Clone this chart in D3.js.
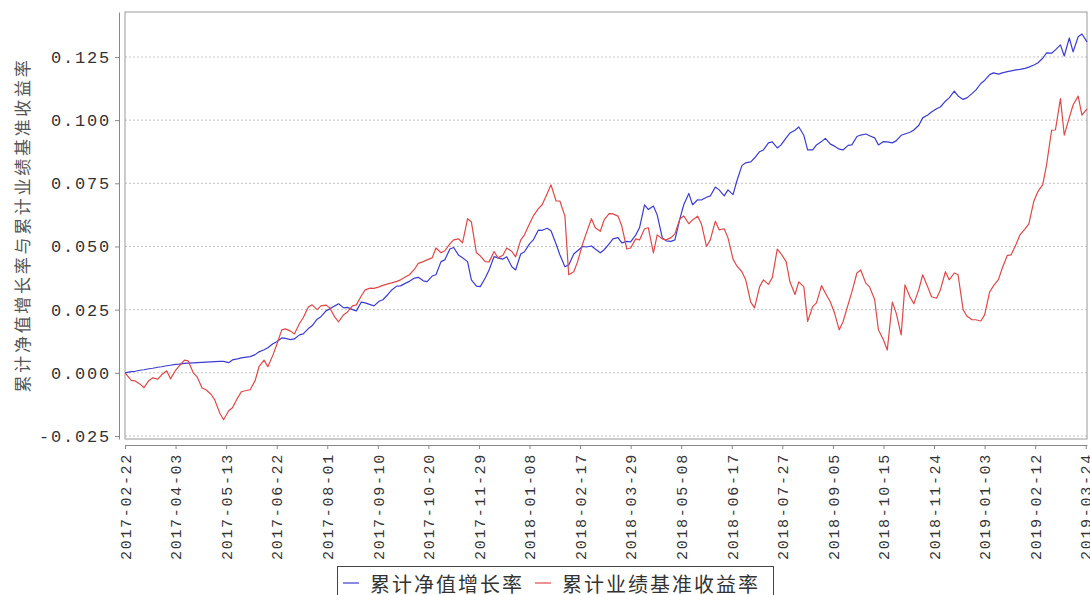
<!DOCTYPE html>
<html>
<head>
<meta charset="utf-8">
<script src="https://cdn.jsdelivr.net/npm/d3@7"></script>
<style>
body { margin: 0; background: #fff; }
</style>
</head>
<body>
<script>
const dates = [
"2017-02-22",
"2017-02-27","2017-03-02","2017-03-06","2017-03-09","2017-03-13","2017-03-16","2017-03-20","2017-03-23","2017-03-27","2017-03-30",
"2017-04-03","2017-04-06","2017-04-10","2017-04-13","2017-04-17","2017-04-20","2017-04-24","2017-04-27","2017-05-01","2017-05-04",
"2017-05-08","2017-05-11","2017-05-15","2017-05-18","2017-05-22","2017-05-25","2017-05-29","2017-06-01","2017-06-05","2017-06-08",
"2017-06-12","2017-06-15","2017-06-19","2017-06-22","2017-06-26","2017-06-29","2017-07-03","2017-07-06","2017-07-10","2017-07-13",
"2017-07-17","2017-07-20","2017-07-24","2017-07-27","2017-07-31","2017-08-03","2017-08-07","2017-08-10","2017-08-14","2017-08-17",
"2017-08-21","2017-08-24","2017-08-28","2017-08-31","2017-09-04","2017-09-07","2017-09-11","2017-09-14","2017-09-18","2017-09-21",
"2017-09-25","2017-09-28","2017-10-02","2017-10-05","2017-10-09","2017-10-12","2017-10-16","2017-10-19","2017-10-23","2017-10-26",
"2017-10-30","2017-11-02","2017-11-06","2017-11-09","2017-11-13","2017-11-16","2017-11-20","2017-11-23","2017-11-27","2017-11-30",
"2017-12-04","2017-12-07","2017-12-11","2017-12-14","2017-12-18","2017-12-21","2017-12-25","2017-12-28","2018-01-01","2018-01-04",
"2018-01-08","2018-01-11","2018-01-15","2018-01-18","2018-01-22","2018-01-25","2018-01-29","2018-02-01","2018-02-05","2018-02-08",
"2018-02-12","2018-02-15","2018-02-19","2018-02-22","2018-02-26","2018-03-01","2018-03-05","2018-03-08","2018-03-12","2018-03-15",
"2018-03-19","2018-03-22","2018-03-26","2018-03-29","2018-04-02","2018-04-05","2018-04-09","2018-04-12","2018-04-16","2018-04-19",
"2018-04-23","2018-04-26","2018-04-30","2018-05-03","2018-05-07","2018-05-10","2018-05-14","2018-05-17","2018-05-21","2018-05-24",
"2018-05-28","2018-05-31","2018-06-04","2018-06-07","2018-06-11","2018-06-14","2018-06-18","2018-06-21","2018-06-25","2018-06-28",
"2018-07-02","2018-07-05","2018-07-09","2018-07-12","2018-07-16","2018-07-19","2018-07-23","2018-07-26","2018-07-30","2018-08-02",
"2018-08-06","2018-08-09","2018-08-13","2018-08-16","2018-08-20","2018-08-23","2018-08-27","2018-08-30","2018-09-03","2018-09-06",
"2018-09-10","2018-09-13","2018-09-17","2018-09-20","2018-09-24","2018-09-27","2018-10-01","2018-10-04","2018-10-08","2018-10-11",
"2018-10-15","2018-10-18","2018-10-22","2018-10-25","2018-10-29","2018-11-01","2018-11-05","2018-11-08","2018-11-12","2018-11-15",
"2018-11-19","2018-11-22","2018-11-26","2018-11-29","2018-12-03","2018-12-06","2018-12-10","2018-12-13","2018-12-17","2018-12-20",
"2018-12-24","2018-12-27","2018-12-31","2019-01-03","2019-01-07","2019-01-10","2019-01-14","2019-01-17","2019-01-21","2019-01-24",
"2019-01-28","2019-01-31","2019-02-04","2019-02-07","2019-02-11","2019-02-14","2019-02-18","2019-02-21","2019-02-25","2019-02-28",
"2019-03-04","2019-03-07","2019-03-11","2019-03-14","2019-03-18","2019-03-21",
"2019-03-25"
];

// 累计净值增长率
const fundGrowth = [
0.0000,
0.0005,0.0006,0.0010,0.0012,0.0016,0.0018,0.0022,0.0024,0.0028,0.0030,
0.0033,0.0034,0.0037,0.0038,0.0039,0.0040,0.0041,0.0042,0.0043,0.0044,
0.0045,0.0045,0.0040,0.0051,0.0055,0.0059,0.0062,0.0064,0.0072,0.0083,
0.0091,0.0099,0.0115,0.0123,0.0138,0.0136,0.0131,0.0134,0.0150,0.0154,
0.0175,0.0186,0.0212,0.0222,0.0245,0.0253,0.0265,0.0273,0.0257,0.0259,
0.0250,0.0245,0.0280,0.0277,0.0270,0.0265,0.0283,0.0289,0.0310,0.0328,
0.0343,0.0344,0.0355,0.0362,0.0375,0.0378,0.0364,0.0361,0.0383,0.0388,
0.0440,0.0447,0.0490,0.0496,0.0465,0.0455,0.0440,0.0368,0.0343,0.0341,
0.0375,0.0407,0.0460,0.0455,0.0450,0.0459,0.0420,0.0407,0.0470,0.0479,
0.0510,0.0526,0.0565,0.0564,0.0572,0.0562,0.0510,0.0467,0.0420,0.0427,
0.0470,0.0483,0.0500,0.0498,0.0502,0.0490,0.0475,0.0487,0.0510,0.0530,
0.0535,0.0514,0.0520,0.0518,0.0545,0.0574,0.0665,0.0646,0.0660,0.0625,
0.0535,0.0522,0.0520,0.0526,0.0610,0.0665,0.0710,0.0665,0.0685,0.0684,
0.0695,0.0700,0.0735,0.0724,0.0700,0.0724,0.0705,0.0759,0.0820,0.0831,
0.0835,0.0850,0.0875,0.0882,0.0910,0.0914,0.0890,0.0902,0.0930,0.0949,
0.0960,0.0973,0.0940,0.0882,0.0882,0.0902,0.0915,0.0928,0.0905,0.0898,
0.0885,0.0882,0.0900,0.0902,0.0935,0.0941,0.0945,0.0938,0.0930,0.0902,
0.0915,0.0914,0.0910,0.0918,0.0940,0.0945,0.0952,0.0961,0.0980,0.1009,
0.1020,0.1032,0.1045,0.1052,0.1075,0.1088,0.1115,0.1096,0.1082,0.1088,
0.1105,0.1119,0.1145,0.1157,0.1180,0.1187,0.1182,0.1187,0.1192,0.1195,
0.1199,0.1201,0.1205,0.1210,0.1218,0.1226,0.1245,0.1266,0.1265,0.1278,
0.1298,0.1254,0.1325,0.1270,0.1330,0.1341,
0.1310
];

// 累计业绩基准收益率
const benchReturn = [
0.0000,
-0.0030,-0.0032,-0.0045,-0.0059,-0.0030,-0.0020,-0.0025,-0.0008,0.0008,-0.0024,
0.0010,0.0028,0.0050,0.0047,0.0000,-0.0016,-0.0060,-0.0067,-0.0085,-0.0107,
-0.0160,-0.0186,-0.0150,-0.0138,-0.0100,-0.0075,-0.0070,-0.0067,-0.0030,0.0024,
0.0050,0.0024,0.0070,0.0111,0.0170,0.0174,0.0165,0.0154,0.0195,0.0218,
0.0260,0.0269,0.0250,0.0265,0.0268,0.0257,0.0220,0.0202,0.0230,0.0241,
0.0265,0.0269,0.0305,0.0328,0.0335,0.0334,0.0340,0.0346,0.0352,0.0356,
0.0362,0.0368,0.0380,0.0388,0.0410,0.0433,0.0440,0.0447,0.0455,0.0494,
0.0475,0.0483,0.0510,0.0526,0.0530,0.0514,0.0610,0.0597,0.0475,0.0463,
0.0440,0.0439,0.0480,0.0455,0.0465,0.0494,0.0480,0.0459,0.0525,0.0546,
0.0590,0.0621,0.0650,0.0665,0.0710,0.0744,0.0680,0.0680,0.0620,0.0388,
0.0400,0.0439,0.0510,0.0554,0.0610,0.0574,0.0560,0.0605,0.0630,0.0629,
0.0620,0.0581,0.0490,0.0494,0.0530,0.0526,0.0570,0.0574,0.0475,0.0546,
0.0530,0.0526,0.0535,0.0550,0.0610,0.0621,0.0590,0.0605,0.0620,0.0589,
0.0500,0.0526,0.0600,0.0566,0.0570,0.0534,0.0450,0.0423,0.0400,0.0368,
0.0280,0.0257,0.0340,0.0368,0.0350,0.0376,0.0490,0.0471,0.0440,0.0360,
0.0310,0.0360,0.0340,0.0203,0.0262,0.0277,0.0345,0.0316,0.0280,0.0241,
0.0170,0.0202,0.0270,0.0320,0.0395,0.0407,0.0355,0.0340,0.0290,0.0170,
0.0130,0.0090,0.0280,0.0237,0.0150,0.0348,0.0300,0.0273,0.0330,0.0388,
0.0340,0.0301,0.0295,0.0328,0.0400,0.0368,0.0395,0.0388,0.0250,0.0225,
0.0210,0.0210,0.0205,0.0229,0.0320,0.0344,0.0370,0.0415,0.0465,0.0467,
0.0510,0.0546,0.0570,0.0589,0.0680,0.0716,0.0745,0.0823,0.0960,0.0961,
0.1085,0.0941,0.1010,0.1060,0.1095,0.1020,
0.1045
];

const xTickLabels = [
"2017-02-22","2017-04-03","2017-05-13","2017-06-22","2017-08-01","2017-09-10","2017-10-20",
"2017-11-29","2018-01-08","2018-02-17","2018-03-29","2018-05-08","2018-06-17","2018-07-27",
"2018-09-05","2018-10-15","2018-11-24","2019-01-03","2019-02-12","2019-03-24"
];
const yTicks = [-0.025, 0, 0.025, 0.05, 0.075, 0.1, 0.125];
const seriesNames = ["累计净值增长率", "累计业绩基准收益率"];
const seriesColors = ["#3c3cd2", "#e04848"];
const yTitle = "累计净值增长率与累计业绩基准收益率";

const width = 1090;
const height = 595;
const plot = {left:125, right:1087, top:12, bottom:439};
const monoFont = "'Liberation Mono', 'DejaVu Sans Mono', monospace";
const cjkFont = "'Noto Sans CJK SC', sans-serif";

const parse = d3.timeParse("%Y-%m-%d");

const svg = d3.select("body")
.append("svg")
.attr("width", width)
.attr("height", height);

const xScale = d3.scaleTime()
.domain([parse("2017-02-22"), parse("2019-03-25")])
.range([plot.left, plot.right]);

const yScale = d3.scaleLinear()
.domain([-0.0262, 0.1428])
.range([plot.bottom, plot.top]);

// horizontal dashed grid
svg.append("g")
.selectAll("line")
.data(yTicks)
.enter()
.append("line")
.attr("x1", plot.left)
.attr("x2", plot.right)
.attr("y1", function(d){ return yScale(d); })
.attr("y2", function(d){ return yScale(d); })
.attr("stroke", "#c4c4c4")
.attr("stroke-dasharray", "2,2");

// plot frame
svg.append("rect")
.attr("x", plot.left)
.attr("y", plot.top)
.attr("width", plot.right - plot.left)
.attr("height", plot.bottom - plot.top)
.attr("fill", "none")
.attr("stroke", "#9a9a9a");

// Y axis (offset from plot)
const yAxis = d3.axisLeft(yScale)
.tickValues(yTicks)
.tickSize(4)
.tickSizeOuter(0)
.tickFormat(function(d){ return d.toFixed(3); });

const gy = svg.append("g")
.attr("transform", "translate(" + (plot.left - 6) + ",0)")
.call(yAxis);
gy.select(".domain").attr("stroke", "#888");
gy.selectAll(".tick line").attr("stroke", "#888");
gy.selectAll(".tick text")
.attr("x", -8)
.attr("fill", "#333")
.style("font-family", monoFont)
.style("font-size", "17px")
.style("letter-spacing", "1.8px");

// X axis (offset from plot)
const xAxis = d3.axisBottom(xScale)
.tickValues(xTickLabels.map(parse))
.tickSize(4)
.tickSizeOuter(0)
.tickFormat(d3.timeFormat("%Y-%m-%d"));

const gx = svg.append("g")
.attr("transform", "translate(0," + (plot.bottom + 6) + ")")
.call(xAxis);
gx.select(".domain").attr("stroke", "#888");
gx.selectAll(".tick line").attr("stroke", "#888");
gx.selectAll(".tick text")
.attr("transform", "rotate(-90)")
.attr("x", -8)
.attr("y", 0)
.attr("dy", "0.35em")
.attr("fill", "#333")
.style("text-anchor", "end")
.style("font-family", monoFont)
.style("font-size", "15px")
.style("letter-spacing", "1.7px");

// Y axis title
svg.append("text")
.attr("transform", "rotate(-90)")
.attr("x", -225)
.attr("y", 21)
.attr("text-anchor", "middle")
.attr("dominant-baseline", "central")
.attr("fill", "#555")
.style("font-family", cjkFont)
.style("font-size", "17px")
.style("letter-spacing", "2.7px")
.text(yTitle);

// series lines
const series = [fundGrowth, benchReturn];
const line = d3.line()
.x(function(d, i){ return xScale(parse(dates[i])); })
.y(function(d){ return yScale(d); });

svg.append("g")
.selectAll("path")
.data(series)
.enter()
.append("path")
.attr("d", function(d){ return line(d); })
.attr("fill", "none")
.attr("stroke", function(d, i){ return seriesColors[i]; })
.attr("stroke-width", 1.2)
.attr("stroke-linejoin", "round");

// legend
const legend = svg.append("g");
legend.append("rect")
.attr("x", 337.5)
.attr("y", 566.5)
.attr("width", 436)
.attr("height", 40)
.attr("fill", "#fff")
.attr("stroke", "#444");

const legendX = [343, 535];
const items = legend.selectAll("g.item")
.data(seriesNames)
.enter()
.append("g")
.attr("class", "item")
.attr("transform", function(d, i){ return "translate(" + legendX[i] + ",583)"; });

items.append("line")
.attr("x1", 0)
.attr("x2", 16)
.attr("stroke", function(d, i){ return seriesColors[i]; })
.attr("stroke-width", 1.2);

items.append("text")
.attr("x", 27)
.attr("dominant-baseline", "central")
.attr("fill", "#333")
.style("font-family", cjkFont)
.style("font-size", "20px")
.style("letter-spacing", "2px")
.text(function(d){ return d; });
</script>
</body>
</html>
